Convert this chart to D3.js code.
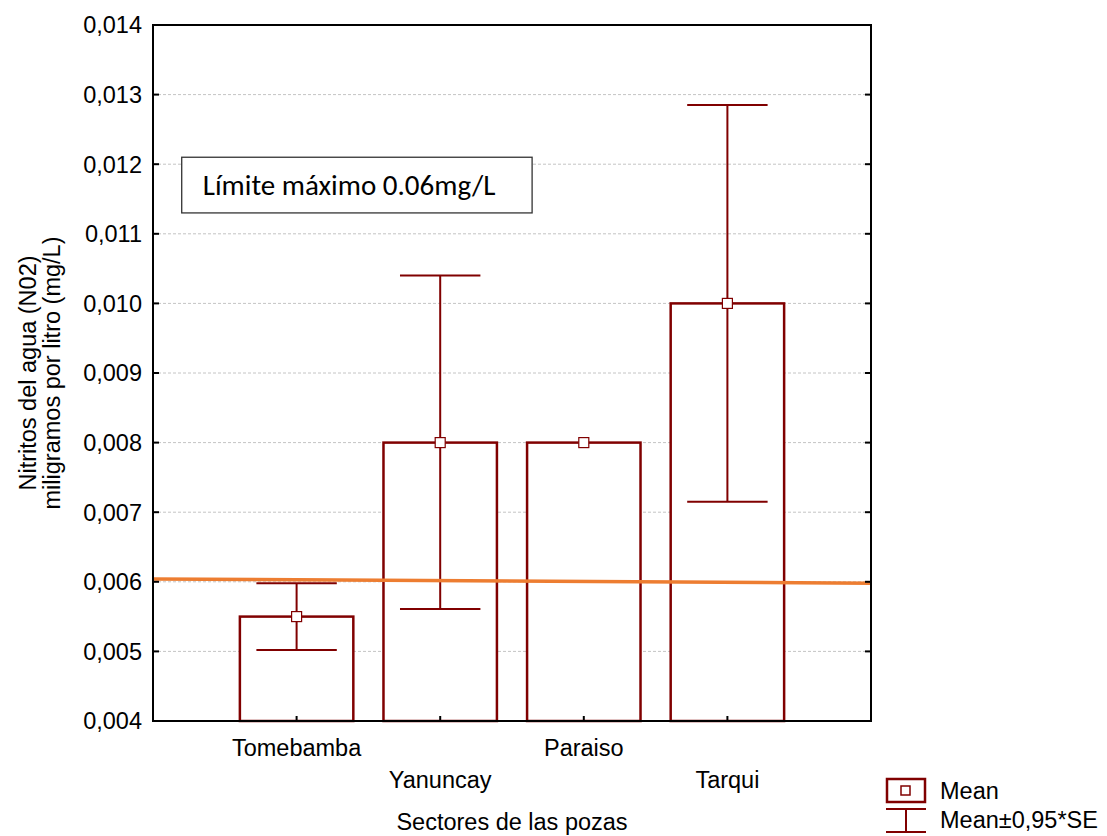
<!DOCTYPE html>
<html>
<head>
<meta charset="utf-8">
<script src="https://cdn.jsdelivr.net/npm/d3@7"></script>
<style>
  body { margin: 0; background: #fff; }
  text { font-family: "Liberation Sans", Arial, sans-serif; fill: #000; }
</style>
</head>
<body>
<div id="chart"></div>
<script>
// data
var sectors = ["Tomebamba", "Yanuncay", "Paraiso", "Tarqui"];
var means = [0.0055, 0.0080, 0.0080, 0.0100];
var lower = [0.00502, 0.00561, 0.0080, 0.00715];
var upper = [0.00598, 0.01040, 0.0080, 0.01285];
var yTicks = [0.004, 0.005, 0.006, 0.007, 0.008, 0.009, 0.010, 0.011, 0.012, 0.013, 0.014];
var limitLine = [0.00604, 0.00598];   // orange line, left end / right end

var width = 1107, height = 836;
var margin = {left: 153, top: 25, right: 236, bottom: 115};
var red = "#800000";
var fs = "23.5px";

var svg = d3.select("#chart").append("svg")
    .attr("width", width).attr("height", height);

var x = d3.scaleLinear().domain([0, 5]).range([margin.left, width - margin.right]);
var y = d3.scaleLinear().domain([0.004, 0.014]).range([height - margin.bottom, margin.top]);
var fmt = function(d) { return d3.format(".3f")(d).replace(".", ","); };

// grid
svg.append("g").selectAll("line")
    .data(yTicks.slice(1, -1))
  .enter().append("line")
    .attr("x1", x(0)).attr("x2", x(5))
    .attr("y1", function(d) { return y(d); }).attr("y2", function(d) { return y(d); })
    .style("stroke", "#c4c4c4").style("stroke-width", 1).style("stroke-dasharray", "3,2");

// y tick labels
svg.append("g").selectAll("text")
    .data(yTicks)
  .enter().append("text")
    .attr("x", x(0) - 11).attr("y", function(d) { return y(d); })
    .attr("dy", "0.36em").attr("text-anchor", "end")
    .style("font-size", fs)
    .text(fmt);

// bars
var bw = 0.79;
svg.append("g").selectAll("rect")
    .data(means)
  .enter().append("rect")
    .attr("x", function(d, i) { return x(i + 1 - bw / 2); })
    .attr("width", x(bw) - x(0))
    .attr("y", function(d) { return y(d); })
    .attr("height", function(d) { return y(0.004) - y(d); })
    .style("fill", "#fff").style("stroke", red).style("stroke-width", 2.5);

// error bars
var cap = 0.28;
var eb = svg.append("g").style("stroke", red).style("stroke-width", 2);
sectors.forEach(function(s, i) {
    if (upper[i] === lower[i]) return;
    eb.append("line").attr("x1", x(i + 1)).attr("x2", x(i + 1))
        .attr("y1", y(lower[i])).attr("y2", y(upper[i]));
    [lower[i], upper[i]].forEach(function(v) {
        eb.append("line").attr("x1", x(i + 1 - cap)).attr("x2", x(i + 1 + cap))
            .attr("y1", y(v)).attr("y2", y(v));
    });
});

// mean markers
svg.append("g").selectAll("rect")
    .data(means)
  .enter().append("rect")
    .attr("x", function(d, i) { return x(i + 1) - 5; })
    .attr("y", function(d) { return y(d) - 5; })
    .attr("width", 10).attr("height", 10)
    .style("fill", "#fff").style("stroke", red).style("stroke-width", 1.2);

// limit line
svg.append("line")
    .attr("x1", x(0)).attr("x2", x(5))
    .attr("y1", y(limitLine[0])).attr("y2", y(limitLine[1]))
    .style("stroke", "#ED7D31").style("stroke-width", 3.5);

// frame and ticks
svg.append("rect")
    .attr("x", x(0)).attr("y", y(0.014))
    .attr("width", x(5) - x(0)).attr("height", y(0.004) - y(0.014))
    .style("fill", "none").style("stroke", "#000").style("stroke-width", 2);
var tk = svg.append("g").style("stroke", "#000").style("stroke-width", 2);
yTicks.forEach(function(t) {
    tk.append("line").attr("x1", x(0)).attr("x2", x(0) + 6).attr("y1", y(t)).attr("y2", y(t));
    tk.append("line").attr("x1", x(5)).attr("x2", x(5) - 6).attr("y1", y(t)).attr("y2", y(t));
});
sectors.forEach(function(s, i) {
    tk.append("line").attr("x1", x(i + 1)).attr("x2", x(i + 1))
        .attr("y1", y(0.004)).attr("y2", y(0.004) - 5);
});

// x labels (staggered)
svg.append("g").selectAll("text")
    .data(sectors)
  .enter().append("text")
    .attr("x", function(d, i) { return x(i + 1); })
    .attr("y", function(d, i) { return i % 2 === 0 ? 756 : 788; })
    .attr("text-anchor", "middle")
    .style("font-size", fs)
    .text(function(d) { return d; });

svg.append("text")
    .attr("x", x(2.5)).attr("y", 830)
    .attr("text-anchor", "middle").style("font-size", fs)
    .text("Sectores de las pozas");

// y axis title
var yt = svg.append("text")
    .attr("transform", "translate(36," + y(0.009) + ") rotate(-90)")
    .attr("text-anchor", "middle").style("font-size", fs);
yt.append("tspan").attr("x", 0).attr("dy", 0).text("Nitritos del agua (N02)");
yt.append("tspan").attr("x", 0).attr("dy", 24).text("miligramos por litro (mg/L)");

// annotation box
svg.append("rect")
    .attr("x", x(0.2)).attr("y", y(0.01210))
    .attr("width", x(2.64) - x(0.2)).attr("height", y(0.0113) - y(0.0121))
    .style("fill", "#fff").style("stroke", "#333").style("stroke-width", 1.3);
svg.append("text")
    .attr("x", x(0.2) + 21).attr("y", y(0.0117))
    .attr("dy", "0.35em")
    .style("font-family", "Carlito, 'Open Sans', sans-serif").style("font-size", "29px")
    .text("Límite máximo 0.06mg/L");

// legend
var lg = svg.append("g");
lg.append("rect").attr("x", 887).attr("y", 779).attr("width", 38).attr("height", 23)
    .style("fill", "#fff").style("stroke", red).style("stroke-width", 2.5);
lg.append("rect").attr("x", 901).attr("y", 786).attr("width", 9).attr("height", 9)
    .style("fill", "#fff").style("stroke", red).style("stroke-width", 1.5);
var le = lg.append("g").style("stroke", red).style("stroke-width", 2);
le.append("line").attr("x1", 886).attr("x2", 926).attr("y1", 809).attr("y2", 809);
le.append("line").attr("x1", 906).attr("x2", 906).attr("y1", 809).attr("y2", 832);
le.append("line").attr("x1", 886).attr("x2", 926).attr("y1", 832).attr("y2", 832);
lg.append("text").attr("x", 940).attr("y", 799).style("font-size", fs).text("Mean");
lg.append("text").attr("x", 940).attr("y", 828).style("font-size", fs).text("Mean±0,95*SE");
</script>
</body>
</html>
